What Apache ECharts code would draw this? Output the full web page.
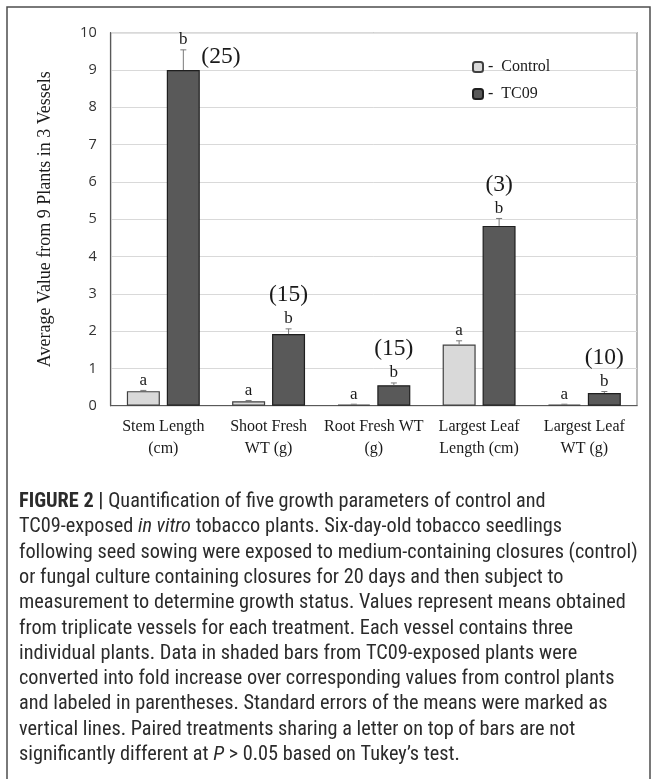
<!DOCTYPE html>
<html><head><meta charset="utf-8">
<script src="https://cdn.jsdelivr.net/npm/echarts@6/dist/echarts.min.js"></script>
<style>html,body{margin:0;padding:0;background:#fff}#c{width:657px;height:779px}</style>
</head><body><div id="c"></div>
<script>
var categories = ['Stem Length\n(cm)', 'Shoot Fresh\nWT (g)', 'Root Fresh WT\n(g)', 'Largest Leaf\nLength (cm)', 'Largest Leaf\nWT (g)'];
var yTicks = [0, 1, 2, 3, 4, 5, 6, 7, 8, 9, 10];
var controlValues = [0.39, 0.12, 0.03, 1.64, 0.03];
var controlErrors = [0.02, 0.02, 0.01, 0.10, 0.01];
var controlLetters = ['a', 'a', 'a', 'a', 'a'];
var tc09Values = [9.0, 1.92, 0.55, 4.82, 0.34];
var tc09Errors = [0.54, 0.14, 0.06, 0.20, 0.04];
var tc09Letters = ['b', 'b', 'b', 'b', 'b'];
var foldLabels = ['(25)', '(15)', '(15)', '(3)', '(10)'];
var captionLines = [
  [['b','FIGURE 2 | '],['n','Quantification of five growth parameters of control and']],
  [['n','TC09-exposed '],['i','in vitro'],['n',' tobacco plants. Six-day-old tobacco seedlings']],
  [['n','following seed sowing were exposed to medium-containing closures (control)']],
  [['n','or fungal culture containing closures for 20 days and then subject to']],
  [['n','measurement to determine growth status. Values represent means obtained']],
  [['n','from triplicate vessels for each treatment. Each vessel contains three']],
  [['n','individual plants. Data in shaded bars from TC09-exposed plants were']],
  [['n','converted into fold increase over corresponding values from control plants']],
  [['n','and labeled in parentheses. Standard errors of the means were marked as']],
  [['n','vertical lines. Paired treatments sharing a letter on top of bars are not']],
  [['n','significantly different at '],['i','P'],['n',' > 0.05 based on Tukey\u2019s test.']]
];

var SERIF = '"Liberation Serif","Times New Roman",serif';
var CAPF = '"Liberation Sans Narrow","Roboto Condensed","Liberation Sans",sans-serif';
var chart = echarts.init(document.getElementById('c'));
var yMax = yTicks[yTicks.length - 1];

function errItems(vals, errs) {
  return vals.map(function (v, i) { return [i, v, errs[i]]; });
}
function makeRender(offset, letters, folds) {
  return function (params, api) {
    var k = params.dataIndex;
    var i = api.value(0), v = api.value(1), e = api.value(2);
    var letter = letters[k];
    var fold = folds ? folds[k] : '';
    var base = api.coord([i, v]);
    var x = base[0] + offset;
    var top = api.coord([i, v + e])[1];
    var yv = base[1];
    var topLimit = api.coord([i, yMax])[1];
    var children = [
      {type: 'line', shape: {x1: x, y1: yv, x2: x, y2: top}, style: {stroke: '#7a7a7a', lineWidth: 1}},
      {type: 'line', shape: {x1: x - 3, y1: top, x2: x + 3, y2: top}, style: {stroke: '#7a7a7a', lineWidth: 1}},
      {type: 'text', x: x, y: top - 10, style: {text: letter, align: 'center', verticalAlign: 'middle', fontFamily: SERIF, fontSize: 17, fill: '#1a1a1a'}}
    ];
    if (fold) {
      var fy = top - 34, fx = x, al = 'center';
      if (fy - 12 < topLimit) { fx = x + 18; fy = top + 7; al = 'left'; }
      children.push({type: 'text', x: fx, y: fy, style: {text: fold, align: al, verticalAlign: 'middle', fontFamily: SERIF, fontSize: 23.5, fill: '#1a1a1a'}});
    }
    return {type: 'group', children: children};
  };
}

var graphics = [
  {type: 'rect', shape: {x: 7, y: 7, width: 643, height: 800}, style: {fill: 'none', stroke: '#4d4d4d', lineWidth: 1.5}, z: 0}
];
captionLines.forEach(function (line, li) {
  var rich = {
    b: {fontFamily: CAPF, fontWeight: 'bold', fontSize: 20.3, fill: '#2b2b2b'},
    n: {fontFamily: CAPF, fontSize: 20.3, fill: '#2b2b2b'},
    i: {fontFamily: CAPF, fontStyle: 'italic', fontSize: 20.3, fill: '#2b2b2b'}
  };
  var txt = line.map(function (p) { return '{' + p[0] + '|' + p[1] + '}'; }).join('');
  graphics.push({type: 'text', left: 19, top: 492 + li * 25.3, style: {text: txt, rich: rich, fill: '#2b2b2b'}});
});

chart.setOption({
  animation: false,
  backgroundColor: '#fff',
  grid: {left: 110.7, top: 32.7, right: 20, bottom: 373.3, show: true, borderColor: '#8a8a8a', borderWidth: 1.2},
  legend: {
    orient: 'vertical', left: 467, top: 54, itemWidth: 10, itemHeight: 10, itemGap: 11,
    data: ['Control', 'TC09'], formatter: '-  {name}',
    textStyle: {fontFamily: SERIF, fontSize: 16, color: '#1a1a1a'}
  },
  xAxis: {
    type: 'category', data: categories,
    axisLine: {show: true, lineStyle: {color: '#595959', width: 1.2}},
    axisTick: {show: false},
    axisLabel: {fontFamily: SERIF, fontSize: 16, color: '#1a1a1a', lineHeight: 22, margin: 10, interval: 0}
  },
  yAxis: {
    type: 'value', min: yTicks[0], max: yMax, interval: 1,
    name: 'Average Value from 9 Plants in 3 Vessels', nameLocation: 'middle', nameGap: 56,
    nameTextStyle: {fontFamily: SERIF, fontSize: 18, color: '#1a1a1a'},
    axisLine: {show: true, lineStyle: {color: '#595959', width: 1.2}},
    axisTick: {show: false},
    splitLine: {lineStyle: {color: '#d9d9d9', width: 1}},
    axisLabel: {fontFamily: '"Open Sans","Noto Sans",sans-serif', fontSize: 14.5, color: '#333', margin: 14}
  },
  graphic: graphics,
  series: [
    {name: 'Control', type: 'bar', data: controlValues, barWidth: 33, barGap: '21%',
     itemStyle: {color: '#d9d9d9', borderColor: '#404040', borderWidth: 1.2}},
    {name: 'TC09', type: 'bar', data: tc09Values, barWidth: 33, barGap: '21%',
     itemStyle: {color: '#595959', borderColor: '#1f1f1f', borderWidth: 1.2}},
    {name: 'ctrlErr', type: 'custom', data: errItems(controlValues, controlErrors),
     renderItem: makeRender(-20, controlLetters, null), z: 5, silent: true},
    {name: 'tcErr', type: 'custom', data: errItems(tc09Values, tc09Errors),
     renderItem: makeRender(20, tc09Letters, foldLabels), z: 5, silent: true}
  ]
});
</script></body></html>
